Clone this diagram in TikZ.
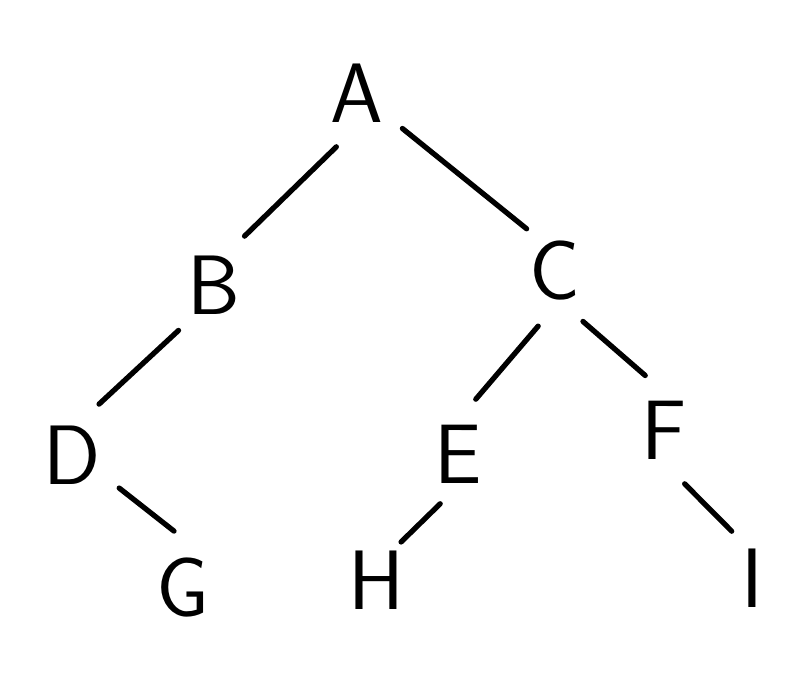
\documentclass[tikz,border=0pt]{standalone}
\usepackage{fontspec}
\usepackage{tikz}
\usetikzlibrary{positioning}

\begin{document}
\begin{tikzpicture}[-,line width=3pt,line cap=round,on grid,
	main node/.style={circle,minimum size=2.2cm,inner sep=0pt,font=\sffamily\fontsize{48}{52}\selectfont}]

	\useasboundingbox (0,0) rectangle (16.16,-13.64);

	\node[main node] (1) at (7.14,-1.86) {A};
	\node[main node] (2) [below left=3.84cm and 2.86cm of 1] {B};
	\node[main node] (3) [below right=3.56cm and 3.96cm of 1] {C};
	\node[main node] (4) [below left=3.40cm and 2.84cm of 2] {D};
	\node[main node] (5) [below left=3.66cm and 1.94cm of 3] {E};
	\node[main node] (6) [below right=3.18cm and 2.18cm of 3] {F};
	\node[main node] (7) [below right=2.66cm and 2.22cm of 4] {G};
	\node[main node] (8) [below left=2.52cm and 1.64cm of 5] {H};
	\node[main node] (9) [below right=2.96cm and 1.76cm of 6] {I};

	\path
		(1.249) edge (2.58)
		(1.322) edge [shorten >=-4pt] (3.126)
		(2.232) edge (4.62)
		(3.253) edge (5.72)
		(3.299) edge (6.109)
		(4.325) edge (7.99)
		(5.248) edge [shorten <=-3pt, shorten >=-7pt] (8.54)
		(6.291) edge [shorten >=-4pt] (9.116);

\end{tikzpicture}
\end{document}
